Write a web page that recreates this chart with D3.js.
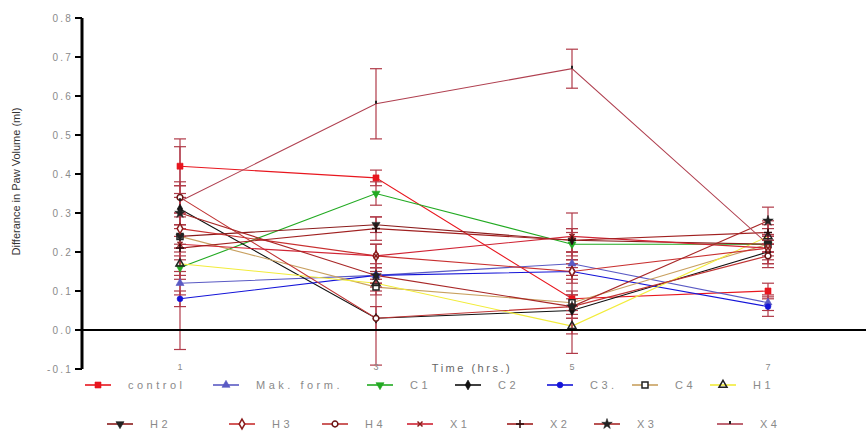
<!DOCTYPE html>
<html>
<head>
<meta charset="utf-8">
<script src="https://cdn.jsdelivr.net/npm/d3@7"></script>
<style>
  body { margin: 0; background: #fff; }
  text { font-family: "Liberation Sans", Arial, sans-serif; }
</style>
</head>
<body>
<div id="chart"></div>
<script>
const w = 866;
const h = 433;

// data
const hours = [1, 3, 5, 7];
const names = ["control", "Mak. form.", "C1", "C2", "C3.", "C4", "H1",
               "H2", "H3", "H4", "X1", "X2", "X3", "X4"];
const control = [0.42, 0.39, 0.08, 0.10];
const makForm = [0.12, 0.14, 0.17, 0.07];
const c1 = [0.16, 0.35, 0.22, 0.22];
const c2 = [0.31, 0.03, 0.05, 0.20];
const c3 = [0.08, 0.14, 0.15, 0.06];
const c4 = [0.24, 0.11, 0.07, 0.22];
const h1 = [0.17, 0.12, 0.01, 0.24];
const h2 = [0.24, 0.27, 0.23, 0.22];
const h3 = [0.26, 0.19, 0.15, 0.21];
const h4 = [0.34, 0.03, 0.06, 0.19];
const x1 = [0.22, 0.19, 0.24, 0.21];
const x2 = [0.21, 0.26, 0.23, 0.25];
const x3 = [0.30, 0.14, 0.06, 0.28];
const x4 = [0.33, 0.58, 0.67, 0.22];
// standard errors
const semControl = [0.05, 0.02, 0.02, 0.02];
const semMak = [0.03, 0.02, 0.03, 0.02];
const semC1 = [0.03, 0.03, 0.03, 0.02];
const semC2 = [0.04, 0.12, 0.11, 0.03];
const semC3 = [0.02, 0.02, 0.03, 0.025];
const semC4 = [0.03, 0.02, 0.02, 0.02];
const semH1 = [0.03, 0.02, 0.02, 0.02];
const semH2 = [0.03, 0.02, 0.03, 0.02];
const semH3 = [0.04, 0.03, 0.02, 0.02];
const semH4 = [0.04, 0.03, 0.03, 0.03];
const semX1 = [0.27, 0.03, 0.06, 0.03];
const semX2 = [0.03, 0.03, 0.03, 0.03];
const semX3 = [0.04, 0.03, 0.02, 0.035];
const semX4 = [0.04, 0.09, 0.05, 0.05];
const yTicks = ["-0.1", "0.0", "0.1", "0.2", "0.3", "0.4", "0.5", "0.6", "0.7", "0.8"];
const xTicks = ["1", "3", "5", "7"];

// styles per series: line colour, marker kind, marker fill, marker stroke
const styles = [
  {line: "#e8161e", m: "square", fill: "#e8161e", stroke: "#e8161e"},
  {line: "#5a5ac4", m: "triangle", fill: "#5a5ac4", stroke: "#5a5ac4"},
  {line: "#22aa22", m: "tridown", fill: "#22aa22", stroke: "#22aa22"},
  {line: "#111", m: "diamond", fill: "#111", stroke: "#111"},
  {line: "#1414d8", m: "circle", fill: "#1414d8", stroke: "#1414d8"},
  {line: "#c8a060", m: "square", fill: "#fff", stroke: "#222"},
  {line: "#f2ec3a", m: "triangle", fill: "none", stroke: "#222"},
  {line: "#8b1c1c", m: "tridown", fill: "#222", stroke: "#222"},
  {line: "#c83030", m: "diamond", fill: "#fff", stroke: "#8b1c1c"},
  {line: "#c03434", m: "circle", fill: "#fff", stroke: "#6a1414"},
  {line: "#d02434", m: "x", fill: "none", stroke: "#8b1c1c"},
  {line: "#a02020", m: "plus", fill: "none", stroke: "#2a0a0a"},
  {line: "#a82828", m: "star", fill: "#222", stroke: "#222"},
  {line: "#b04050", m: "tick", fill: "none", stroke: "#222"}
];

const values = [control, makForm, c1, c2, c3, c4, h1, h2, h3, h4, x1, x2, x3, x4];
const sems = [semControl, semMak, semC1, semC2, semC3, semC4, semH1, semH2, semH3, semH4, semX1, semX2, semX3, semX4];
const series = names.map((n, i) => ({name: n, vals: values[i], sem: sems[i], st: styles[i]}));

const svg = d3.select("#chart").append("svg")
  .attr("width", w).attr("height", h);

const x = d3.scaleLinear().domain([0, 8]).range([82, 866]);
const y = d3.scaleLinear().domain([-0.1, 0.8]).range([369, 18]);

function marker(g, kind, st) {
  if (kind === "x") {
    g.append("path").attr("d", "M-2.5,-2.5L2.5,2.5M-2.5,2.5L2.5,-2.5")
      .attr("stroke", st.stroke).attr("stroke-width", 1.5);
    return;
  }
  if (kind === "plus") {
    g.append("path").attr("d", "M-4,0L4,0M0,-4L0,4")
      .attr("stroke", st.stroke).attr("stroke-width", 1.5);
    return;
  }
  if (kind === "tick") {
    g.append("path").attr("d", "M0,-3L0,0")
      .attr("stroke", st.stroke).attr("stroke-width", 2);
    return;
  }
  const types = {square: d3.symbolSquare, triangle: d3.symbolTriangle, tridown: d3.symbolTriangle,
    diamond: d3.symbolDiamond, circle: d3.symbolCircle, star: d3.symbolStar};
  const area = {square: 36, triangle: 28, tridown: 28, diamond: 28, circle: 26, star: 34}[kind];
  g.append("path")
    .attr("d", d3.symbol().type(types[kind]).size(area)())
    .attr("transform", kind === "tridown" ? "rotate(180)" : null)
    .attr("fill", st.fill).attr("stroke", st.stroke)
    .attr("stroke-width", st.fill === "#fff" || st.fill === "none" ? 1.5 : 0.6);
}

// lines
const line = d3.line().x((d, i) => x(hours[i])).y(d => y(d));
svg.append("g").selectAll("path")
  .data(series).enter().append("path")
  .attr("d", d => line(d.vals))
  .attr("fill", "none")
  .attr("stroke", d => d.st.line)
  .attr("stroke-width", 1.1);

// error bars
const eb = svg.append("g").attr("stroke", "#b03a48").attr("stroke-width", 1.2);
series.forEach(s => {
  s.vals.forEach((v, i) => {
    const cx = x(hours[i]);
    const lo = y(v - s.sem[i]), hi = y(v + s.sem[i]);
    eb.append("line").attr("x1", cx).attr("x2", cx).attr("y1", lo).attr("y2", hi);
    eb.append("line").attr("x1", cx - 6).attr("x2", cx + 6).attr("y1", lo).attr("y2", lo);
    eb.append("line").attr("x1", cx - 6).attr("x2", cx + 6).attr("y1", hi).attr("y2", hi);
  });
});

// markers
series.forEach(s => {
  s.vals.forEach((v, i) => {
    const g = svg.append("g").attr("transform", `translate(${x(hours[i])},${y(v)})`);
    marker(g, s.st.m, s.st);
  });
});

// y axis
const yAxis = svg.append("g");
yAxis.append("line").attr("x1", x(0)).attr("x2", x(0))
  .attr("y1", y(-0.1)).attr("y2", y(0.8))
  .attr("stroke", "#000").attr("stroke-width", 3);
yTicks.forEach(t => {
  const v = +t;
  yAxis.append("line").attr("x1", x(0) - 7).attr("x2", x(0))
    .attr("y1", y(v)).attr("y2", y(v)).attr("stroke", "#000").attr("stroke-width", 2);
  yAxis.append("text").attr("x", x(0) - 9).attr("y", y(v) + 3.5)
    .attr("text-anchor", "end").attr("font-size", 10).attr("fill", "#8a8a8a")
    .attr("letter-spacing", 2.2)
    .text(t);
});
// zero line
svg.append("line").attr("x1", x(0)).attr("x2", x(8))
  .attr("y1", y(0)).attr("y2", y(0)).attr("stroke", "#000").attr("stroke-width", 2);

// x tick labels
xTicks.forEach(t => {
  svg.append("text").attr("x", x(+t)).attr("y", y(-0.1) + 1)
    .attr("text-anchor", "middle").attr("font-size", 9).attr("fill", "#888").text(t);
});

// axis titles
svg.append("text")
  .attr("transform", `translate(20,${(y(0.8) + y(-0.1)) / 2 - 12}) rotate(-90)`)
  .attr("text-anchor", "middle").attr("font-size", 11).attr("fill", "#333")
  .text("Differance in Paw Volume (ml)");
svg.append("text").attr("x", 472).attr("y", 372)
  .attr("text-anchor", "middle").attr("font-size", 11).attr("fill", "#666")
  .attr("letter-spacing", 2.5).text("Time (hrs.)");

// legend
const legX = [98, 226, 380, 468, 560, 645, 723, 120, 242, 335, 420, 520, 607, 730];
const legend = svg.append("g");
series.forEach((s, i) => {
  const ly = i < 7 ? 385 : 424;
  const g = legend.append("g").attr("transform", `translate(${legX[i]},${ly})`);
  g.append("line").attr("x1", -13).attr("x2", 13).attr("y1", 0).attr("y2", 0)
    .attr("stroke", s.st.line).attr("stroke-width", 1.6);
  marker(g, s.st.m, s.st);
  g.append("text").attr("x", 30).attr("y", 4)
    .attr("font-size", 11).attr("fill", "#8a8a8a").attr("letter-spacing", 3.5)
    .text(s.name);
});
</script>
</body>
</html>
